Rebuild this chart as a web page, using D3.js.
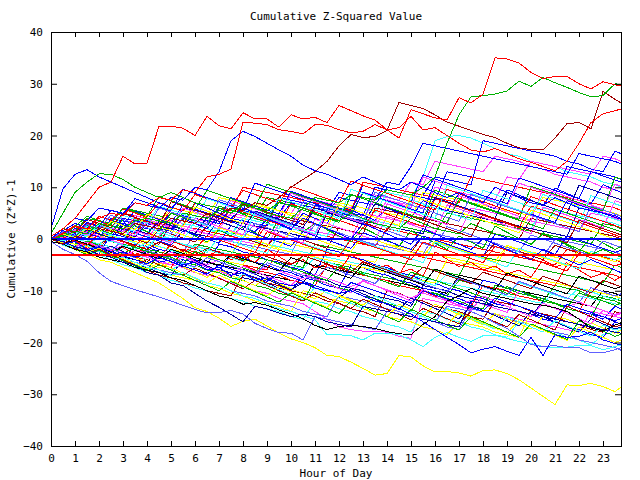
<!DOCTYPE html>
<html>
<head>
<meta charset="utf-8">
<script src="https://cdn.jsdelivr.net/npm/d3@7"></script>
<style>
body { margin: 0; background: #fff; }
text { font-family: "DejaVu Sans Mono", monospace; font-size: 11px; fill: #000; }
</style>
</head>
<body>
<div id="chart"></div>
<script>

// x positions of the samples (hour of day)
const hours = [0,0.5,1,1.5,2,2.5,3,3.5,4,4.5,5,5.5,6,6.5,7,7.5,8,8.5,9,9.5,10,10.5,11,11.5,
	12,12.5,13,13.5,14,14.5,15,15.5,16,16.5,17,17.5,18,18.5,19,19.5,20,20.5,21,21.5,22,22.5,23,23.5,23.75];

const xTicks = [0,1,2,3,4,5,6,7,8,9,10,11,12,13,14,15,16,17,18,19,20,21,22,23];
const yTicks = [-40,-30,-20,-10,0,10,20,30,40];

// flat reference levels drawn across the whole day
const refLevels = [0, -3.1];

// background series, first set
const s1 = [0,1,0.5,0,3,2.5,2, 1.5,1,4,3.5,3,2.5,2, 5,4.5,4,3.5,6,5.5,5, 8,7.5,7,6.5,6,9,8.5, 8,7.5,11,10.5,15,14.5,14, 13.5,13,16,15.5,15,14,13.5, 12.5,12,11.5,11,10,9.5,9];
const s2 = [0,-1,-1.5,1,0.5,-0.5,-1, 2,1.5,1,0,3,2.5,2, 1,0.5,4,3.5,3,2,5, 4.5,4,3,7,6.5,6,5, 9,8.5,8,12,19,19.8,20, 19.5,18.5,17.5,16.5,16,15,14.5, 14,13,12.5,12,11,10.5,10];
const s3 = [0,0.5,2,1.5,1,0.5,3, 2.5,2,1.5,4,3.5,3,2.5, 6,5.5,5,4.5,4,7,6.5, 6,5.5,5,8,7.5,7,6.5, 10,9.5,9,8.5,12,11.5,11, 10.5,19,18.5,18,17.5,17,16.5, 16,15,14.5,13.5,13,17,16.5];
const s4 = [0,-0.5,-1,-1.5,-2,1,0.5, 0,-0.5,-1,3,2.5,2,1.5, 1,0.5,0,-0.5,5,4.5,4, 3.5,3,2.5,2,1.5,1,6, 5.5,5,4.5,4,3.5,3,2.5, 2,1.5,1,0.5,0,4,3.5, 3,2.5,2,1.5,1,0.5,0];
const s5 = [0,-1,-1.5,-2.5,-3,-3.5,-1, -1.5,-2.5,-3,-3.5,-4.5,-5,-2, -2.5,-3,-4,-4.5,-5,-6,-6.5, -3,-3.5,-4.5,-5,-5.5,-6.5,-7, -7.5,-8,-9,-10,-10.5,-11,-8, -8.5,-9,-9.5,-10.5,-11,-11.5,-12, -9,-9.5,-10,-11,-11.5,-12,-12.5];
const s6 = [0,0.5,-0.5,-1,-1.5,2,1.5, 1,0.5,0,-0.5,-1,-1.5,-2, -2.5,-3,1,0.5,0,-0.5,-1, -1.5,-2,-2.5,-3,-3.5,-4,-4.5, -1,-1.5,-2,-2.5,-3,-3.5,-4, -4.5,-5,-5.5,-1.5,-2,-2.5,-3, -3.5,-4,-4.5,-5,-5.5,-6,-6.5];
const s7 = [0,-0.5,-1,-2,-2.5,-3,-3.5, -4,-4.5,-2,-2.5,-3,-4,-4.5, -5,-5.5,-6,-6.5,-7,-7.5,-8, -8.5,-5,-5.5,-6,-6.5,-7,-7.5, -8,-8.5,-9,-9.5,-10,-10.5,-7, -7.5,-8,-8.5,-9.5,-10,-10.5,-11, -11.5,-12,-12.5,-13,-10,-10.5,-11];
const s8 = [0,-1,-0.5,-1.5,-2,-2.5,0, -0.5,-1,-1.5,-2,-2.5,1,0.5, 0,-0.5,-1,-1.5,-2,-2.5,-3, 2,1.5,1,0.5,0,-0.5,-1, -1.5,-2,-2.5,-3,1,0.5,0, -0.5,-1,-1.5,-2,-2.5,-3,-3.5, 0,-0.5,-1,-1.5,-2,-2.5,-3];
const s9 = [0,-0.5,-1.5,-2,-3,-3.5,-4.5, -5,-5.5,-6.5,-7,-4,-4.5,-5.5, -6,-6.5,-7.5,-8,-8.5,-9.5,-10, -7,-7.5,-8,-9,-9.5,-10,-11, -11.5,-12,-13,-9,-9.5,-10,-11, -11.5,-12,-13,-13.5,-14,-15,-12, -12.5,-13,-14,-14.5,-15,-16,-16.5];
const s10 = [0,1,0.5,3,2.5,2,1.5, 1,4,3.5,3,2.5,2,1.5, 1,0.5,0,-0.5,3,2.5,2, 1.5,1,0.5,0,-0.5,-1,-1.5, 2,1.5,1,0.5,0,-0.5,-1, -1.5,-2,-2.5,-3,-3.5,-4,-4.5, -5,-2,-2.5,-3,-3.5,-4,-4.5];
const s11 = [0,2,1.5,4,3.5,3,6, 5.5,5,4.5,4,3.5,7,6.5, 6,5.5,5,4.5,8,7.5,7, 6.5,6,5.5,5,4.5,4,3.5, 3,2.5,2,1.5,1,5,4.5, 4,3.5,3,2.5,2,1.5,1, 0.5,0,-0.5,-1,3,2.5,2];
const s12 = [0,-1,-1.5,-2.5,-3,-4,-4.5, -1,-1.5,-2.5,-3,-4,-4.5,-5.5, -6,-3,-3.5,-4.5,-5,-6,-6.5, -7.5,-8,-9,-9.5,-5,-5.5,-6.5, -7,-8,-8.5,-9.5,-10,-11,-11.5, -12.5,-8,-8.5,-9.5,-10,-11,-11.5, -12.5,-13,-14,-14.5,-15.5,-13,-13.5];
const s13 = [0,-0.5,-1.5,-2,-1,-1.5,-2.5, -3,-3.5,-4.5,-5,-5.5,-6.5,-7, -7.5,-8.5,-9,-10,-10.5,-11.5,-12, -12.5,-14,-15.5,-17,-17.5,-17.8,-17.8, -18,-18.8,-19.2,-11.5,-12,-12.5,-13, -13.5,-14,-14.5,-15,-15.5,-16,-16.5, -17,-17.5,-18,-14,-14.5,-15,-15.2];
const s14 = [0,-1,-2,-2.5,-3.5,-4,-5, -5.5,-6.5,-7,-8,-8.5,-9.5,-10, -11,-11.5,-12,-13,-13.5,-14,-15, -15.5,-12,-12.5,-13.5,-14,-15,-15.5, -16.5,-17,-18,-14,-14.5,-15.5,-16, -17,-17.5,-18.5,-19,-16,-16.5,-17.5, -18,-19,-19.5,-20.5,-18.5,-18,-17.5];
const s15 = [0,-0.5,-1,-2,-2.5,-3.5,-4, -4.5,-5.5,-6,-7,-7.5,-8,-9, -9.5,-10.5,-11,-12,-12.5,-13,-14, -10,-10.5,-11.5,-12,-12.5,-13.5,-14, -15,-15.5,-16,-17,-17.5,-18.5,-16, -16.5,-17,-18,-18.5,-19,-14,-14.5, -15,-15.5,-16.5,-17,-17.5,-18,-18.5];
const s16 = [0,0.5,-0.5,-1,-1.5,-2.5,-3, -3.5,-4,-5,-5.5,-2,-2.5,-3, -4,-4.5,-5,-6,-6.5,-7,-8, -8.5,-9,-5,-5.5,-6,-7,-7.5, -8,-9,-9.5,-10,-11,-11.5,-12, -13,-9,-9.5,-10,-11,-11.5,-12, -12.5,-13.5,-14,-10,-10.5,-11,-11.5];
const s17 = [0,-1,-1.5,-2.5,-3,-4,-4.5, -5.5,-6,-7,-7.5,-8.5,-9,-10, -10.5,-11,-7,-7.5,-8.5,-9,-10, -10.5,-11,-12,-12.5,-13.5,-14,-15, -10,-10.5,-11.5,-12,-13,-13.5,-14, -15,-15.5,-12,-12.5,-13,-14,-14.5, -15,-16,-16.5,-17.5,-18,-14,-14.5];
const s18 = [0,1.5,1,0.5,0,4,3.5, 3,2.5,2,1.5,6,5.5,5, 4.5,4,3.5,3,2.5,8,7.5, 7,6.5,6,5.5,5,4.5,10, 9.5,9,8.5,8,7.5,13,12.5, 12,11.5,11,10.5,10,9.5,9, 8.5,14,13.5,13,12.5,12,11.5];
const s19 = [0,0.5,0,-0.5,2,1.5,1, 0.5,0,3,2.5,2,1.5,1, 0.5,0,-0.5,-1,-1.5,3,2.5, 2,1.5,1,0.5,0,5,4.5, 4,3.5,3,2.5,2,1.5,1, 6,5.5,5,4.5,4,3.5,3, 2.5,2,1.5,5,4.5,4,3.5];
const s20 = [0,-0.5,-1,0.5,0,-0.5,-1, -1.5,-2,-2.5,-3,-3.5,-1,-1.5, -2,-2.5,-3,-3.5,-4,-4.5,-5, -5.5,-1,-1.5,-2,-2.5,-3,-3.5, -4,-4.5,-5,-5.5,-6,-6.5,-7, -3,-3.5,-4,-4.5,-5,-5.5,-6, -6.5,-7,-7.5,-8,-8.5,-5,-5.5];
const s21 = [0,0.5,0,-0.5,-1,-1.5,-2, 1,0.5,0,-0.5,-1,-1.5,-2, -2.5,-3,0,-0.5,-1,-1.5,-2, -2.5,-3,-3.5,-4,-4.5,-5,-5.5, -6,-6.5,-7,-7.5,-8,-8.5,-9, -9.5,-10,-10.5,-11,-11.5,-12,-12.5, -10,-10.5,-11,-11.5,-12,-12.5,-12.8];
const s22 = [0,-0.5,-1.5,-2,-3,1,0.5, -0.5,-1,-2,-2.5,-3.5,-4,-5, -1,-1.5,-2.5,-3,-4,-4.5,-5.5, -6,-7,-2,-2.5,-3.5,-4,-5, -5.5,-6.5,-7,-8,-8.5,-9.5,-10, -11,-11.5,-12.5,-13,-14,-14.5,-15.5, -16,-17,-17.5,-18.5,-19,-16,-16.5];
const s23 = [0,0.5,1,3,2.5,2,5, 4.5,4,3.5,3,2.5,7,6.5, 6,5.5,10,9.5,9,8.5,8, 7.5,7,6.5,6,5.5,11,10.5, 10,9.5,9,8.5,8,7.5,7, 12,11.5,11,10.5,10,9.5,9, 8.5,8,7.5,7,6.5,6,5.5];
const s24 = [0,1,0.5,0,2,1.5,1, 4,3.5,3,6,5.5,5,4.5, 8,7.5,7,6.5,6,5.5,5, 4.5,4,3.5,7,6.5,6,5.5, 5,4.5,4,9,8.5,8,7.5, 7,6.5,6,5.5,5,4.5,8, 7.5,7,6.5,6,5.5,5,4.5];
const s25 = [0,-0.5,-1,-2,-2.5,-3,-4, -4.5,-5,-6,-6.5,-7,-8,-8.5, -9,-10,-10.5,-11,-12,-12.5,-13, -14,-14.5,-15,-11,-11.5,-12,-13, -13.5,-14,-15,-15.5,-16,-17,-17.5, -13.5,-14,-14.5,-15.5,-16,-16.5,-17.5, -18,-18.5,-19.5,-20,-20.5,-21,-21.5];
const s26 = [0,1,0.5,0,3,2.5,2, 1.5,1,0.5,4,3.5,3,2.5, 2,5,4.5,4,3.5,3,2.5, 6,5.5,5,4.5,4,3.5,8, 7.5,7,6.5,6,10,9.5,9, 8.5,8,7.5,12,11.5,15,14.5, 14,13.5,13,12.5,16,15.5,15];
const s27 = [0,-0.5,1,0.5,0,-0.5,2, 1.5,1,0.5,0,3,2.5,2, 1.5,1,4,3.5,3,2.5,2, 1.5,1,0.5,5,4.5,4,3.5, 3,2.5,7,6.5,6,5.5,5, 4.5,4,3.5,3,2.5,2,6, 5.5,5,4.5,4,3.5,3,2.5];
const s28 = [0,-0.5,-1.5,-2,-3,-3.5,-4.5, -5,-6,-3,-3.5,-4.5,-5,-6, -6.5,-7.5,-8,-9,-9.5,-10.5,-11, -12,-8,-8.5,-9.5,-10,-11,-11.5, -12.5,-13,-14,-10,-10.5,-11.5,-12, -13,-13.5,-9,-9.5,-10.5,-11,-12, -12.5,-13.5,-14,-15,-11,-11.5,-12];
const s29 = [0,0.5,0,2.5,2,1.5,1, 0.5,3,2.5,2,1.5,1,0.5, 4,3.5,3,2.5,2,1.5,1, 0.5,0,5,4.5,4,3.5,3, 2.5,2,1.5,1,6,5.5,5, 4.5,4,3.5,3,2.5,2,1.5, 1,0.5,6,5.5,5,4.5,4];
const s30 = [0,-0.5,-1,-1.5,-2,-2.5,-3, -3.5,-1,-1.5,-2,-2.5,-3,-3.5, -4,-4.5,-5,-5.5,-6,-2,-2.5, -3,-3.5,-4,-4.5,-5,-5.5,-6, -6.5,-7,-3,-3.5,-4,-4.5,-5, -5.5,-6,-6.5,-7,-7.5,-8,-8.5, -9,-5,-5.5,-6,-6.5,-7,-7.5];
const s31 = [0,0.5,1,0,2,1.5,4, 3.5,3,2.5,5,4.5,4,3.5, 3,6,5.5,5,4.5,4,7, 6.5,6,5.5,9,8.5,8,7.5, 11,10.5,14,18.5,18,17.5,17, 16.5,16,15.5,15,14.5,14,13.5, 13,12.5,16.5,16,15.5,15,14.5];
const s32 = [0,-0.5,-1,-1.5,1,0.5,0, -0.5,-1,-1.5,-2,-2.5,-3,-3.5, -4,-4.5,-5,-1,-1.5,-2,-2.5, -3,-3.5,-4,-4.5,-5,-5.5,-6, -6.5,-7,-7.5,-8,-8.5,-4,-4.5, -5,-5.5,-6,-6.5,-7,-7.5,-8, -8.5,-9,-9.5,-10,-10.5,-11,-11.5];

// background series, second set (more jagged)
const t1 = [0,-1.2,-0.4,-1.8,-1,-2.4,-1.6, -3,-2.2,-3.6,-1,-2.4,-1.6,-3.2, -2.4,-4,-3.2,-4.6,-2,-3.4,-4.8, -4,-5.6,-4.8,-6.2,-3,-4.4,-5.8, -5,-6.6,-5.8,-7.2,-2.5,-3.9,-5.3, -4.5,-6,-5.2,-6.8,-6,-7.4,-4, -5.4,-4.6,-6,-7.4,-6.6,-8,-7.2];
const t2 = [0,0.8,-0.4,1.6,0.4,2.2,1, 2.6,1.4,0.2,3,1.8,0.6,-0.6, 1.8,0.6,2.4,1.2,0,3.8,2.6, 1.4,3,1.8,0.6,-0.6,2.2,1, -0.2,-1.4,1.6,0.4,-0.8,-2,0.6, -0.6,-1.8,2.5,1.3,0.1,-1.1,1.2, 0,-1.2,-2.4,0.4,-0.8,-2,-1.5];
const t3 = [0,-0.6,0.8,-0.2,1.6,0.6,2.8, 1.8,3.6,2.6,1.6,4,3,2, 4.4,3.4,2.4,1.4,3.8,2.8,1.8, 5,4,3,6.6,5.6,4.6,3.6, 6,5,4,7.4,6.4,5.4,8.8, 7.8,6.8,5.8,9.5,8.5,7.5,6.5, 9.8,8.8,7.8,6.8,10.5,9.5,9];
const t4 = [0,-0.8,-1.6,-0.6,-1.4,-2.2,-1.2, -2,-2.8,-3.6,-2.6,-3.4,-4.2,-5, -4,-4.8,-5.6,-6.4,-5.4,-6.2,-7, -7.8,-6.8,-7.6,-8.4,-9.2,-8.2,-9, -9.8,-10.6,-11.4,-10.4,-11.2,-12,-12.8, -11.8,-12.6,-13.4,-14.2,-10,-10.8,-11.6, -12.4,-13.2,-12.2,-13,-13.8,-14.6,-14.2];
const t5 = [0,0.6,-0.4,-1.2,0.4,-0.4,-1.2, -2,-0.6,-1.4,-2.2,-3,-1.2,-2, -2.8,-3.6,-4.4,-2.6,-3.4,-4.2,-5, -5.8,-3.6,-4.4,-5.2,-6,-6.8,-5, -5.8,-6.6,-7.4,-8.2,-9,-6.8,-7.6, -8.4,-9.2,-10,-10.8,-8.4,-9.2,-10, -10.8,-11.6,-9.4,-10.2,-11,-11.8,-11.4];
const t6 = [0,1.4,0.6,-0.2,2.4,1.6,0.8, 0,-0.8,1.8,1,0.2,-0.6,2.6, 1.8,1,0.2,-0.6,-1.4,1.4,0.6, -0.2,-1,-1.8,2.2,1.4,0.6,-0.2, -1,-1.8,-2.6,0.6,-0.2,-1,-1.8, -2.6,-3.4,-0.8,-1.6,-2.4,-3.2,-4, -1.2,-2,-2.8,-3.6,-4.4,-5.2,-4.8];
const t7 = [0,-1,-2,-1.4,-2.4,-3.4,-2.6, -3.6,-4.6,-5.6,-4.4,-5.4,-6.4,-7.4, -6,-7,-8,-9,-7.6,-8.6,-9.6, -10.6,-11.6,-9.8,-10.8,-11.8,-12.8,-11, -12,-13,-14,-15,-12.6,-13.6,-14.6, -15.6,-16.6,-14.4,-15.4,-16.4,-17.4,-15, -16,-17,-18,-16.2,-17.2,-18.2,-17.6];
const t8 = [0,-0.4,0.6,-0.2,-1,0.4,-0.4, -1.2,-2,-0.6,-1.4,-2.2,-3,-1.8, -2.6,-3.4,-4.2,-2.6,-3.4,-4.2,-5, -3.2,-4,-4.8,-5.6,-6.4,-4.4,-5.2, -6,-6.8,-7.6,-5.4,-6.2,-7,-7.8, -8.6,-6.4,-7.2,-8,-8.8,-9.6,-7.2, -8,-8.8,-9.6,-10.4,-8,-8.8,-9.2];
const t9 = [0,0.8,1.8,1,2.6,1.8,1, 3.4,2.6,1.8,1,4.2,3.4,2.6, 1.8,1,0.2,3,2.2,1.4,0.6, -0.2,2.8,2,1.2,0.4,-0.4,-1.2, 1.6,0.8,0,-0.8,-1.6,2.4,1.6, 0.8,0,-0.8,-1.6,-2.4,0.8,0, -0.8,-1.6,-2.4,-3.2,-0.4,-1.2,-1.6];
const t10 = [0,-1,-0.2,-1.2,-2.2,-1.4,-2.4, -3.4,-2.4,-3.4,-4.4,-5.4,-4.2,-5.2, -6.2,-7.2,-5.8,-6.8,-7.8,-8.8,-9.8, -8.4,-9.4,-10.4,-11.4,-9.6,-10.6,-11.6, -12.6,-13.6,-11.4,-12.4,-13.4,-14.4,-15.4, -12.8,-13.8,-14.8,-15.8,-16.8,-14,-15, -16,-17,-18,-15.4,-16.4,-17.4,-17];
const t11 = [0,1,2.4,1.6,3.4,2.6,1.8, 4,3.2,2.4,5.6,4.8,4,3.2, 2.4,6,5.2,4.4,3.6,2.8,6.8, 6,5.2,4.4,3.6,2.8,2,5.6, 4.8,4,3.2,2.4,7.8,7,6.2, 5.4,4.6,3.8,3,2.2,6.4,5.6, 4.8,4,3.2,2.4,1.6,0.8,0.4];
const t12 = [0,-0.6,-1.4,-0.4,-1.2,-2,-2.8, -1.6,-2.4,-3.2,-4,-4.8,-2.4,-3.2, -4,-4.8,-5.6,-6.4,-4,-4.8,-5.6, -6.4,-7.2,-8,-5.2,-6,-6.8,-7.6, -8.4,-9.2,-6.4,-7.2,-8,-8.8,-9.6, -10.4,-11.2,-12,-9.2,-10,-10.8,-11.6, -12.4,-13.2,-10.4,-11.2,-12,-12.8,-12.4];
const t13 = [0,0.4,-0.4,1.2,0.4,-0.4,2, 1.2,0.4,-0.4,-1.2,1.6,0.8,0, -0.8,2.6,1.8,1,0.2,-0.6,-1.4, 1.4,0.6,-0.2,-1,-1.8,1.2,0.4, -0.4,-1.2,-2,0.6,-0.2,-1,-1.8, -2.6,-3.4,1,0.2,-0.6,-1.4,-2.2, -3,0.6,-0.2,-1,-1.8,-2.6,-2.2];
const t14 = [0,0.6,1.6,0.8,0,2.2,1.4, 0.6,3.2,2.4,1.6,0.8,4,3.2, 2.4,1.6,0.8,4.8,4,3.2,2.4, 1.6,0.8,5.4,4.6,3.8,3,2.2, 6.8,6,5.2,4.4,3.6,2.8,8.4, 7.6,6.8,6,5.2,4.4,3.6,9.8, 9,8.2,7.4,6.6,5.8,10.6,10.2];
const t15 = [0,-1.2,-2,-1.2,-2.4,-3.2,-4.2, -3,-4,-5,-6,-4.6,-5.6,-6.6, -7.6,-8.6,-6.8,-7.8,-8.8,-9.8,-10.8, -11.8,-9.4,-10.4,-11.4,-12.4,-13.4,-11, -12,-13,-14,-15,-16,-13.4,-14.4, -15.4,-16.4,-17.4,-15,-16,-17,-18, -15.8,-16.8,-17.8,-18.8,-16.6,-17.6,-17.2];
const t16 = [0,0.4,1.4,0.6,-0.2,1.8,1, 0.2,-0.6,2.4,1.6,0.8,0,-0.8, 2.2,1.4,0.6,-0.2,-1,-1.8,1.6, 0.8,0,-0.8,-1.6,-2.4,0.6,-0.2, -1,-1.8,-2.6,-3.4,-0.4,-1.2,-2, -2.8,-3.6,-4.4,-1.2,-2,-2.8,-3.6, -4.4,-5.2,-2,-2.8,-3.6,-4.4,-4];
const t17 = [0,-0.8,-1.8,-2.8,-2,-3,-4, -5,-4,-5,-6,-7,-5.6,-6.6, -7.6,-8.6,-9.6,-8,-9,-10,-11, -12,-10.4,-11.4,-12.4,-13.4,-11.6,-12.6, -13.6,-14.6,-15.6,-13.4,-14.4,-15.4,-16.4, -14,-15,-16,-17,-14.6,-15.6,-16.6, -17.6,-13,-14,-15,-16,-17,-16.6];
const t18 = [0,1.6,3,2.2,4.4,3.6,2.8, 5.4,4.6,3.8,3,6.6,5.8,5, 4.2,8,7.2,6.4,5.6,4.8,9.2, 8.4,7.6,6.8,6,5.2,10.4,9.6, 8.8,8,7.2,12.4,11.6,10.8,10, 9.2,8.4,7.6,6.8,11.8,11,10.2, 9.4,8.6,7.8,13,12.2,11.4,11];
const t19 = [0,-0.6,-1.4,-0.6,-1.6,-2.6,-3.4, -2.2,-3.2,-4.2,-5,-3.4,-4.4,-5.4, -6.2,-7.2,-5.2,-6.2,-7.2,-8,-9, -6.6,-7.6,-8.6,-9.6,-10.4,-8,-9, -10,-11,-12,-9.8,-10.8,-11.8,-12.8, -13.8,-11,-12,-13,-14,-15,-12.4, -13.4,-14.4,-15.4,-16.4,-13.8,-14.8,-14.4];
const t20 = [0,1.2,0.4,2.6,1.8,1,3.8, 3,2.2,1.4,5,4.2,3.4,2.6, 6.4,5.6,4.8,4,3.2,7.2,6.4, 5.6,4.8,4,3.2,8.6,7.8,7, 6.2,5.4,4.6,3.8,9.4,8.6,7.8, 7,6.2,5.4,4.6,3.8,10.2,9.4, 8.6,7.8,7,6.2,5.4,12,11.6];
const t21 = [0,-0.4,0.6,-0.2,-1,0.8,0, -0.8,-1.6,0.6,-0.2,-1,-1.8,-2.6, 0.4,-0.4,-1.2,-2,-2.8,0.8,0, -0.8,-1.6,-2.4,-3.2,0.2,-0.6,-1.4, -2.2,-3,-3.8,-4.6,-0.6,-1.4,-2.2, -3,-3.8,-4.6,-5.4,-1.8,-2.6,-3.4, -4.2,-5,-5.8,-2.4,-3.2,-4,-3.6];
const t22 = [0,-0.8,-0.2,-1,-1.8,-2.6,-1.4, -2.2,-3,-3.8,-2,-2.8,-3.6,-4.4, -5.2,-3,-3.8,-4.6,-5.4,-6.2,-3.6, -4.4,-5.2,-6,-6.8,-7.6,-4.8,-5.6, -6.4,-7.2,-8,-8.8,-5.8,-6.6,-7.4, -8.2,-9,-9.8,-6.6,-7.4,-8.2,-9, -9.8,-10.6,-7.2,-8,-8.8,-9.6,-9.2];
const t23 = [0,-0.8,-1.6,-2.6,-1.8,-2.8,-3.8, -4.8,-5.8,-4.6,-5.6,-6.6,-7.6,-8.6, -7,-8,-9,-10,-11,-9.2,-10.2, -11.2,-12.2,-13.2,-11,-12,-13,-14, -15,-12.6,-13.6,-14.6,-15.6,-16.6,-14.2, -15.2,-16.2,-17.2,-18.2,-15.6,-16.6,-17.6, -18.6,-19.6,-17,-18,-19,-20,-19.6];
const t24 = [0,0.4,-0.4,-1.2,1,0.2,-0.6, -1.4,1.2,0.4,-0.4,-1.2,-2,0.6, -0.2,-1,-1.8,-2.6,1.4,0.6,-0.2, -1,-1.8,-2.6,-3.4,0,-0.8,-1.6, -2.4,-3.2,-4,-0.6,-1.4,-2.2,-3, -3.8,-4.6,-1.4,-2.2,-3,-3.8,-4.6, -5.4,-6.2,-2.8,-3.6,-4.4,-5.2,-4.8];
const t25 = [0,-0.6,-1.4,-2.2,-1.2,-2,-2.8, -3.6,-2.2,-3,-3.8,-4.6,-5.4,-3.6, -4.4,-5.2,-6,-6.8,-4.6,-5.4,-6.2, -7,-7.8,-5.4,-6.2,-7,-7.8,-8.6, -6.2,-7,-7.8,-8.6,-9.4,-10.2,-7.6, -8.4,-9.2,-10,-10.8,-8.2,-9,-9.8, -10.6,-11.4,-12.2,-9.4,-10.2,-11,-10.6];
const t26 = [0,0.8,0,1.8,1,0.2,2.6, 1.8,1,3.4,2.6,1.8,1,4.2, 3.4,2.6,1.8,5.4,4.6,3.8,3, 2.2,6,5.2,4.4,3.6,2.8,6.8, 6,5.2,4.4,3.6,8,7.2,6.4, 5.6,4.8,4,9,8.2,7.4,6.6, 5.8,5,10.4,9.6,8.8,8,7.6];
const t27 = [0,0.6,-0.2,1.4,0.6,-0.2,-1, 1.6,0.8,0,-0.8,2.6,1.8,1, 0.2,-0.6,3.2,2.4,1.6,0.8,0, -0.8,3.8,3,2.2,1.4,0.6,-0.2, 4.4,3.6,2.8,2,1.2,6.6,5.8, 5,4.2,3.4,2.6,1.8,1,6.2, 5.4,4.6,3.8,3,2.2,7.4,7];
const t28 = [0,-1,-2,-3,-2.2,-3.2,-4.2, -5.2,-6.2,-5,-6,-7,-8,-9, -10,-8.2,-9.2,-10.2,-11.2,-12.2,-10.4, -11.4,-12.4,-13.4,-14.4,-12,-13,-14, -15,-16,-13.6,-14.6,-15.6,-16.6,-17.6, -15,-16,-17,-18,-19,-16.4,-17.4, -18.4,-19.4,-15.8,-16.8,-17.8,-18.8,-18.4];
const t29 = [0,1,0.2,2.4,1.6,0.8,0, 3,2.2,1.4,0.6,-0.2,3.4,2.6, 1.8,1,0.2,5,4.2,3.4,2.6, 1.8,1,6.2,5.4,4.6,3.8,3, 2.2,1.4,7.6,6.8,6,5.2,4.4, 3.6,9.4,8.6,7.8,7,6.2,5.4, 4.6,3.8,3,8.4,7.6,6.8,6.4];
const t30 = [0,-0.8,-1.6,-2.4,-1.6,-2.4,-3.2, -4,-4.8,-3.6,-4.4,-5.2,-6,-6.8, -5,-5.8,-6.6,-7.4,-8.2,-6.6,-7.4, -8.2,-9,-9.8,-10.6,-8.4,-9.2,-10, -10.8,-11.6,-12.4,-10,-10.8,-11.6,-12.4, -13.2,-14,-11.4,-12.2,-13,-13.8,-14.6, -15.4,-12.6,-13.4,-14.2,-15,-15.8,-15.4];

// background series, third set (upper half of the bundle)
const u1 = [0,1.2,2.6,1.8,4.4,3.6,5.8, 5,4.2,7,6.2,5.4,8.6,7.8, 7,6.2,9.4,8.6,7.8,7,10.2, 9.4,8.6,7.8,7,11.2,10.4,9.6, 8.8,8,7.2,6.4,5.6,9.6,8.8, 8,7.2,6.4,5.6,4.8,8.2,7.4, 6.6,5.8,5,4.2,3.4,2.6,2.2];
const u2 = [0,0.8,2.4,4.4,3.6,2.8,6, 5.2,4.4,8.2,7.4,6.6,5.8,9.4, 8.6,7.8,7,6.2,10.6,9.8,9, 8.2,7.4,6.6,5.8,5,8.8,8, 7.2,6.4,5.6,4.8,4,3.2,7.6, 6.8,6,5.2,4.4,3.6,2.8,2, 5.8,5,4.2,3.4,2.6,1.8,1.4];
const u3 = [0,1.6,1,3.2,2.4,5.6,4.8, 7.8,7,6.2,5.4,9.6,8.8,8, 7.2,6.4,5.6,10.8,10,9.2,8.4, 7.6,6.8,6,5.2,4.4,9,8.2, 7.4,6.6,5.8,5,11.2,10.4,9.6, 8.8,8,7.2,6.4,5.6,4.8,4, 3.2,7.4,6.6,5.8,5,4.2,3.8];
const u4 = [0,0.4,1.8,1,3,2.2,1.4, 4.6,3.8,3,2.2,6,5.2,4.4, 3.6,7.4,6.6,5.8,5,4.2,8.8, 8,7.2,6.4,5.6,4.8,4,3.2, 7.6,6.8,6,12,11.2,10.4,9.6, 8.8,8,7.2,6.4,10.8,10,9.2, 8.4,7.6,6.8,6,5.2,4.4,4];
const u5 = [0,-0.4,1.4,0.6,2.8,2,4.6, 3.8,3,6.4,5.6,4.8,4,7.8, 7,6.2,5.4,4.6,3.8,8,7.2, 6.4,5.6,4.8,4,9.6,8.8,8, 7.2,6.4,5.6,4.8,4,10.4,9.6, 8.8,8,7.2,6.4,5.6,4.8,8.6, 7.8,7,6.2,5.4,4.6,3.8,3.4];
const u6 = [0,2,1.2,3.8,3,2.2,5, 4.2,3.4,2.6,7.2,6.4,5.6,4.8, 4,3.2,6.8,6,5.2,4.4,3.6, 2.8,6.4,5.6,4.8,4,3.2,2.4, 1.6,5.2,4.4,3.6,2.8,2,1.2, 0.4,4.8,4,3.2,2.4,1.6,0.8, 0,-0.8,3.6,2.8,2,1.2,0.8];
const u7 = [0,1,0.2,2,1.2,3.4,2.6, 1.8,4.8,4,3.2,2.4,6.2,5.4, 4.6,3.8,3,7,6.2,5.4,4.6, 3.8,3,2.2,6.6,5.8,5,4.2, 3.4,2.6,8.4,7.6,6.8,6,5.2, 4.4,3.6,2.8,2,1.2,5.6,4.8, 4,3.2,2.4,1.6,0.8,0,-0.4];
const u8 = [0,1.4,0.6,2.8,2,4.6,3.8, 3,2.2,6,5.2,4.4,3.6,2.8, 7.6,6.8,6,5.2,4.4,3.6,2.8, 7.2,6.4,5.6,4.8,4,3.2,9, 8.2,7.4,6.6,5.8,5,4.2,3.4, 8.6,7.8,7,6.2,5.4,4.6,3.8, 3,2.2,1.4,6.4,5.6,4.8,4.4];

// the series that stand out from the bundle
const redTop = [0.5,2,4,7,10,11,16, 14.5,14.6,21.8,21.8,21.4,20,23.7, 21.9,21.3,24.4,23.2,23.2,21.6,24, 23.2,23.5,22.5,25.8,24.8,23.8,23, 21.1,19.5,25,24.2,23.4,23,27.3, 26.3,28,35,34.8,34,32.2,31, 31.4,31.4,30,29,30.4,29.8,29.6];
const redSecond = [0,1,2.5,2,4,5,4.5, 7,6.5,8,7.5,9.5,9,12, 12.5,13.5,22.5,22.4,22.1,21.1,20.8, 20.3,22.1,22,21.1,20.5,20.8,22.1, 21.1,21.5,23.7,21.1,21.5,20,18.5, 17.2,16.8,17.5,16.5,15.5,14.8,14, 13.2,15,18.5,22.5,24.2,24.8,25.1];
const greenTop = [0,0.5,1.5,1,3,2.5,2, 3.5,4,3.5,3,5,4.5,4, 5.5,5,6.5,6,5.5,7,6.5, 6,8,7.5,7,8.5,8,7.5, 9.5,9,8.5,10,12,18.5,24, 27.5,27.7,28,28.6,30.5,29.5,31.2, 30.2,29.3,28.3,27.5,27.7,30,29.8];
const darkRedTop = [0,-1,0.5,0,2,1.5,1, 3,2.5,2,4,3.5,3,5, 4.5,6,5.5,7,6.5,8,10, 11.5,13,15,18,20.2,19.6,19.8, 21,26.4,25.8,25.2,24,22.6,21.8, 21,20.2,19.6,18.5,17.6,17.3,17.2, 19.5,22.3,22.5,21.3,28.5,27,26.3];
const blueHigh = [0,2,4,3.5,6,5.5,5, 7,6.5,6,8,7.5,10,9.5, 13,19,20.8,19.8,18.5,17.2,16, 14.3,13.2,12.5,11.5,10.5,12,11, 10,9.5,11,10,9,8,9, 8,7,10,9,8,7,6.5, 8,7,6,5.5,5,4.5,4];
const blueEarly = [2,9.7,12.5,13.4,12,11,10, 9,8,7,6,8,7,6, 5,4,6,5,4,3,2, 4,3,2,1,0,3,2, 1,0,-1,2,1,0,-1, -2,0,-1,-2,-3,-4,-2, -3,-4,-5,-4,-5,-6,-6.5];
const greenEarly = [1,5,9,11,12.6,12.5,11.5, 10,9,8,9,8,7,6.5, 6,5,7,6,5,4.5,4, 6,5,4,3.5,5,4,3, 2.5,2,4,3,2,1.5,1, 3,2,1,0.5,0,-1,1, 0,-1,-2,-3,-2,-3,-3.5];
const yellowLow = [0,-0.8,-2,-2.8,-4,-4.5,-5.5, -6.5,-7.5,-8.5,-10,-11.5,-13.3,-14, -15.3,-16.9,-15.9,-15.5,-16.8,-18.2,-19.3, -20,-21,-22.5,-22.7,-23.8,-25,-26.3, -26,-22.5,-22.8,-24.5,-25.7,-25.6,-25.9, -26.5,-25.4,-25.3,-26,-27.2,-28.8,-30.4, -32,-28.2,-28.3,-27.9,-28.5,-29.5,-28.6];
const blackLow = [-0.5,-1,-2,-2.5,-3.5,-4,-4.5, -5.5,-6,-6.5,-7.5,-8,-9,-10, -11,-11.5,-12.6,-12.3,-12.8,-13.7,-14.5, -15.4,-16.7,-17.5,-16.9,-16.7,-16.9,-17.3, -17.9,-18.3,-18.5,-16.5,-15,-12,-11, -9.5,-10.5,-11,-11.5,-12,-12.5,-12.8, -13.3,-14,-15.5,-17.2,-17.8,-16.6,-16.2];
const lightBlueLow = [-0.5,-2,-3,-4.3,-6.5,-8.2,-9, -9.8,-10.5,-11.2,-12,-12.8,-13.6,-14.3, -14.2,-13.8,-14.5,-16.3,-17.3,-18.1,-18.2, -19.5,-15,-15.5,-16,-16.5,-17,-17.5, -14,-14.5,-15,-15.5,-16,-13,-13.5, -14,-15,-16.2,-17.3,-18.8,-20.4,-20.8, -20.6,-21,-21,-22,-22,-21.4,-21];
const cyanLow = [0,-1,-1.5,-2.5,-3,-4,-3.5, -4.5,-5.5,-6,-7,-6.5,-7.5,-8.5, -9,-10,-11,-11.5,-12.5,-13.5,-14, -14.8,-15.6,-18.5,-18.5,-18.7,-19.5,-18.2, -18.2,-18.5,-19.5,-20.8,-19,-18.1,-19, -19.8,-18.7,-18.6,-19.2,-19.8,-20.2,-20.8, -21,-20.9,-20.5,-20.6,-21.4,-20.8,-20.5];
const blueLow = [0,-1,-0.5,-2,-1.5,-3,-2.5, -3.5,-3,-4.5,-4,-5,-4.5,-6, -5.5,-7,-6.5,-8,-7.5,-8.5,-9, -8.5,-9.5,-10,-10.5,-10,-11,-12, -12.5,-13.5,-14.5,-16,-17.5,-19,-20.4, -22,-21.3,-20.8,-21.7,-22.5,-19,-22.5, -18.5,-19,-18.8,-18,-19.5,-20.2,-20.5];
const darkBlueLow = [0,-0.5,-1.5,-2,-3,-3.5,-4.5, -5,-6.5,-7,-8.5,-9,-10.5,-12, -13.2,-14.6,-16,-13,-13.5,-14.3,-15, -14.5,-15,-16,-16.5,-17,-13,-13.5, -14,-14.5,-15,-15.5,-16,-16.5,-17, -12,-12.5,-13,-13.5,-14,-14.5,-15, -15.5,-16,-16.5,-17,-17.5,-18,-18.2];

var chart = {
	container: '#chart',
	width: 640,
	height: 480,
	margin: {left: 51, right: 19, top: 32, bottom: 34}
};

var palette = {
	red: '#ff0000', green: '#00b000', blue: '#0000ff', magenta: '#ff40ff', cyan: '#40ffff',
	darkred: '#a00000', yellow: '#ffff00', black: '#000000', lightblue: '#6060ff', darkblue: '#0000a0'
};

// drawing order, later ones land on top
var series = [
	[s1, 'magenta'], [s2, 'cyan'], [s3, 'blue'], [s4, 'darkred'], [s5, 'green'], [s6, 'yellow'],
	[s7, 'black'], [s8, 'lightblue'], [s9, 'darkblue'], [s10, 'red'], [s11, 'green'], [s12, 'blue'],
	[s13, 'magenta'], [s14, 'cyan'], [s15, 'yellow'], [s16, 'red'], [s17, 'darkred'], [s18, 'blue'],
	[s19, 'magenta'], [s20, 'green'], [s21, 'cyan'], [s22, 'blue'], [s23, 'red'], [s24, 'yellow'],
	[s25, 'lightblue'], [s26, 'magenta'], [s27, 'cyan'], [s28, 'green'], [s29, 'darkblue'], [s30, 'red'],
	[s31, 'blue'], [s32, 'yellow'],
	[t1, 'red'], [t2, 'green'], [t3, 'blue'], [t4, 'magenta'], [t5, 'cyan'], [t6, 'darkred'],
	[t7, 'yellow'], [t8, 'darkred'], [t9, 'lightblue'], [t10, 'darkblue'], [t11, 'red'], [t12, 'green'],
	[t13, 'blue'], [t14, 'magenta'], [t15, 'cyan'], [t16, 'yellow'], [t17, 'darkred'], [t18, 'blue'],
	[t19, 'magenta'], [t20, 'green'], [t21, 'cyan'], [t22, 'black'], [t23, 'yellow'], [t24, 'red'],
	[t25, 'lightblue'], [t26, 'darkblue'], [t27, 'magenta'], [t28, 'green'], [t29, 'cyan'], [t30, 'blue'],
	[u1, 'red'], [u2, 'green'], [u3, 'blue'], [u4, 'magenta'], [u5, 'cyan'], [u6, 'darkred'],
	[u7, 'yellow'], [u8, 'lightblue'],
	[yellowLow, 'yellow'], [cyanLow, 'cyan'], [lightBlueLow, 'lightblue'], [blackLow, 'black'],
	[darkBlueLow, 'darkblue'], [blueLow, 'blue'], [blueEarly, 'blue'], [greenEarly, 'green'],
	[blueHigh, 'blue'], [darkRedTop, 'darkred'], [greenTop, 'green'], [redSecond, 'red'], [redTop, 'red']
];

var svg, g, xScale, yScale;

function createChart() {

	var w = chart.width - chart.margin.left - chart.margin.right,
		h = chart.height - chart.margin.top - chart.margin.bottom;

	svg = d3.select(chart.container)
		.append('svg')
		.attr('width', chart.width)
		.attr('height', chart.height)
		.style('background', '#fff');

	g = svg.append('g')
		.attr('transform', 'translate(' + chart.margin.left + ',' + chart.margin.top + ')');

	xScale = d3.scaleLinear()
		.domain([0, 23.75])
		.range([0, w]);

	yScale = d3.scaleLinear()
		.domain([-40, 40])
		.range([h, 0]);

	var line = d3.line()
		.x(function (d, i) { return xScale(hours[i]); })
		.y(function (d) { return yScale(d); });

	g.append('defs').append('clipPath')
		.attr('id', 'plot-clip')
		.append('rect')
		.attr('width', w)
		.attr('height', h);

	var plot = g.append('g')
		.attr('clip-path', 'url(#plot-clip)');

	plot.selectAll('.walk')
		.data(series)
		.enter().append('path')
		.attr('class', 'walk')
		.attr('d', function (d) { return line(d[0]); })
		.attr('fill', 'none')
		.attr('stroke', function (d) { return palette[d[1]]; })
		.attr('stroke-width', 1)
		.attr('shape-rendering', 'crispEdges');

	plot.selectAll('.level')
		.data(refLevels)
		.enter().append('line')
		.attr('class', 'level')
		.attr('x1', 0)
		.attr('x2', w)
		.attr('y1', function (d) { return Math.round(yScale(d)); })
		.attr('y2', function (d) { return Math.round(yScale(d)); })
		.attr('stroke', function (d, i) { return i == 0 ? palette.blue : palette.red; })
		.attr('stroke-width', 2)
		.attr('shape-rendering', 'crispEdges');

	// axes, ticks point inward on all four sides like gnuplot
	var xAxis = d3.axisBottom(xScale).tickValues(xTicks).tickSizeInner(-5).tickSizeOuter(0).tickPadding(8);
	var xTop = d3.axisTop(xScale).tickValues(xTicks).tickSizeInner(-5).tickSizeOuter(0).tickFormat('');
	var yAxis = d3.axisLeft(yScale).tickValues(yTicks).tickSizeInner(-6).tickSizeOuter(0).tickPadding(8);
	var yRight = d3.axisRight(yScale).tickValues(yTicks).tickSizeInner(-6).tickSizeOuter(0).tickFormat('');

	g.append('g').attr('class', 'x-axis').attr('transform', 'translate(0,' + h + ')').call(xAxis);
	g.append('g').attr('class', 'x-top').call(xTop);
	g.append('g').attr('class', 'y-axis').call(yAxis);
	g.append('g').attr('class', 'y-right').attr('transform', 'translate(' + w + ',0)').call(yRight);

	g.selectAll('.domain').remove();
	g.selectAll('.tick line').attr('stroke', '#000');

	g.append('rect')
		.attr('x', 0.5)
		.attr('y', 0.5)
		.attr('width', w)
		.attr('height', h)
		.attr('fill', 'none')
		.attr('stroke', '#000')
		.attr('stroke-width', 1);

	svg.append('text')
		.attr('x', chart.margin.left + w / 2)
		.attr('y', 20)
		.attr('text-anchor', 'middle')
		.text('Cumulative Z-Squared Value');

	svg.append('text')
		.attr('x', chart.margin.left + w / 2)
		.attr('y', 477)
		.attr('text-anchor', 'middle')
		.text('Hour of Day');

	svg.append('text')
		.attr('transform', 'translate(15,' + (chart.margin.top + h / 2) + ') rotate(-90)')
		.attr('text-anchor', 'middle')
		.text('Cumulative (Z*Z)-1');
}

createChart();

</script>
</body>
</html>
